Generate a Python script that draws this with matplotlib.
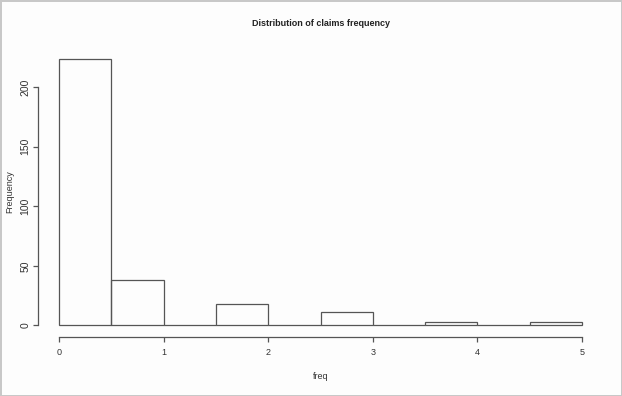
import matplotlib
matplotlib.use('Agg')
import matplotlib.pyplot as plt

plt.rcParams['font.family'] = ['Liberation Sans', 'DejaVu Sans']

# histogram of claims frequency (bin edges, counts)
bin_edges = [0, 0.5, 1, 1.5, 2, 2.5, 3, 3.5, 4, 4.5, 5]
counts = [224, 38, 0, 18, 0, 11, 0, 3, 0, 3]
x_ticks = [0, 1, 2, 3, 4, 5]
y_ticks = [0, 50, 100, 150, 200]

line_col = '#555555'
text_col = '#333333'

fig = plt.figure(figsize=(6.22, 3.96), dpi=100)
fig.patch.set_facecolor('#fdfdfd')
fig.patch.set_edgecolor('#c8c8c8')
fig.patch.set_linewidth(2)
ax = fig.add_axes([0.0611, 0.1515, 0.9084, 0.7273])
ax.set_facecolor('#fdfdfd')

ax.hist(bin_edges[:-1], bins=bin_edges, weights=counts,
        facecolor='none', edgecolor=line_col, linewidth=0.9)

ymax = max(counts)
ax.set_xlim(-0.04 * 5, 5 + 0.04 * 5)
ax.set_ylim(-0.04 * ymax, ymax * 1.04)

for s in ['top', 'right']:
    ax.spines[s].set_visible(False)
ax.spines['left'].set_bounds(0, 200)
ax.spines['bottom'].set_bounds(0, 5)
ax.spines['left'].set_color(line_col)
ax.spines['bottom'].set_color(line_col)
ax.spines['left'].set_linewidth(0.9)
ax.spines['bottom'].set_linewidth(0.9)
ax.spines['bottom'].set_position(('outward', 1))

ax.set_xticks(x_ticks)
ax.set_yticks(y_ticks)
ax.set_yticklabels([str(v) for v in y_ticks], rotation=90, va='center')
ax.tick_params(axis='both', length=3.6, width=0.9, color=line_col,
               labelsize=6.5, labelcolor=text_col)
ax.tick_params(axis='y', labelsize=7.5, pad=2)
ax.tick_params(axis='x', pad=4)

ax.set_title('Distribution of claims frequency', fontsize=6.5, fontweight='bold',
             color='#222222', pad=16)
ax.set_xlabel('freq', fontsize=6.5, color=text_col, labelpad=11)
ax.set_ylabel('Frequency', fontsize=6.5, color=text_col, labelpad=4)

fig.savefig('out.png', dpi=100, facecolor=fig.get_facecolor(), edgecolor=fig.get_edgecolor())
